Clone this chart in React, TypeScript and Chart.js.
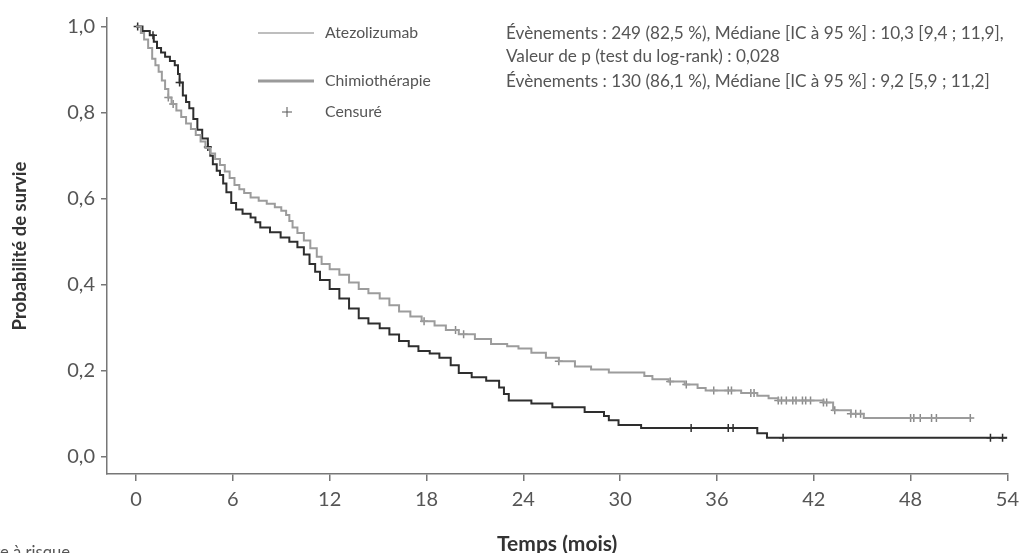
import React, { useEffect, useRef } from "react";
import { Chart, registerables } from "chart.js";

Chart.register(...registerables);

// Kaplan-Meier estimates (time in months, survival probability)
const ATEZO_T = [0, 0.3, 0.5, 0.75, 1.0, 1.2, 1.4, 1.6, 1.8, 2.0, 2.2, 2.5, 2.8, 3.1, 3.4, 3.7, 4.0, 4.3, 4.6, 4.9, 5.2, 5.5, 5.8, 6.1, 6.4, 6.7, 7.1, 7.6, 8.1, 8.6, 9.0, 9.3, 9.5, 9.7, 10.0, 10.4, 10.8, 11.2, 11.5, 12.0, 12.6, 13.2, 13.8, 14.4, 15.1, 15.7, 16.3, 17.0, 17.7, 18.5, 19.2, 20.0, 21.0, 22.0, 23.0, 23.7, 24.5, 25.4, 26.2, 27.2, 28.2, 29.3, 31.5, 32.0, 33.0, 34.0, 34.8, 35.3, 37.5, 38.5, 39.2, 39.8, 42.6, 43.2, 44.3, 45.1, 51.7];
const ATEZO_S = [1.0, 0.985, 0.97, 0.95, 0.925, 0.91, 0.895, 0.875, 0.855, 0.835, 0.82, 0.805, 0.79, 0.775, 0.762, 0.748, 0.733, 0.718, 0.705, 0.692, 0.678, 0.663, 0.648, 0.632, 0.622, 0.613, 0.603, 0.595, 0.588, 0.58, 0.572, 0.562, 0.548, 0.533, 0.52, 0.503, 0.485, 0.465, 0.448, 0.436, 0.423, 0.405, 0.39, 0.38, 0.368, 0.352, 0.338, 0.326, 0.315, 0.305, 0.295, 0.285, 0.274, 0.262, 0.257, 0.252, 0.242, 0.23, 0.222, 0.21, 0.203, 0.196, 0.188, 0.18, 0.175, 0.168, 0.16, 0.154, 0.148, 0.142, 0.136, 0.131, 0.126, 0.108, 0.1, 0.09, 0.09];
const ATEZO_CENS = [2.0, 2.3, 17.85, 19.8, 20.3, 26.2, 33.1, 34.1, 35.8, 36.7, 36.9, 38.1, 38.3, 39.8, 40.0, 40.3, 40.7, 40.9, 41.3, 41.5, 41.8, 42.6, 42.8, 43.3, 44.3, 44.6, 44.9, 48.0, 48.2, 48.6, 49.3, 49.6, 51.7];

const CHEMO_T = [0, 0.4, 0.85, 1.1, 1.3, 1.55, 1.8, 2.1, 2.4, 2.6, 2.7, 2.9, 3.1, 3.3, 3.55, 3.8, 4.1, 4.45, 4.6, 4.76, 5.0, 5.2, 5.4, 5.6, 5.9, 6.2, 6.6, 7.1, 7.4, 7.7, 8.3, 8.96, 9.5, 10.0, 10.4, 10.75, 11.1, 11.4, 12.0, 12.6, 13.2, 13.8, 14.4, 15.1, 15.7, 16.3, 16.9, 17.5, 18.2, 18.8, 19.5, 20.0, 20.8, 21.7, 22.5, 22.8, 23.1, 24.5, 25.8, 27.8, 29.0, 29.3, 29.9, 31.3, 38.5, 39.1, 54.0];
const CHEMO_S = [1.0, 0.99, 0.98, 0.965, 0.95, 0.94, 0.93, 0.92, 0.91, 0.89, 0.87, 0.84, 0.825, 0.81, 0.785, 0.76, 0.74, 0.72, 0.7, 0.68, 0.665, 0.655, 0.635, 0.615, 0.59, 0.575, 0.565, 0.556, 0.545, 0.533, 0.522, 0.51, 0.5, 0.487, 0.47, 0.448, 0.43, 0.411, 0.39, 0.368, 0.345, 0.322, 0.31, 0.299, 0.284, 0.269, 0.257, 0.246, 0.24, 0.23, 0.213, 0.195, 0.185, 0.177, 0.161, 0.146, 0.131, 0.124, 0.115, 0.104, 0.095, 0.085, 0.074, 0.067, 0.055, 0.044, 0.044];
const CHEMO_CENS = [0.1, 1.05, 2.7, 4.45, 34.4, 36.7, 37.0, 40.1, 52.95, 53.7];

const X_TICKS = [0, 6, 12, 18, 24, 30, 36, 42, 48, 54];
const Y_TICKS = [0, 0.2, 0.4, 0.6, 0.8, 1.0];

const ATEZO_LABEL = "Atezolizumab";
const CHEMO_LABEL = "Chimiothérapie";
const CENS_LABEL = "Censuré";
const ANNOT_1 = "Évènements : 249 (82,5 %), Médiane [IC à 95 %] : 10,3 [9,4 ; 11,9],";
const ANNOT_2 = "Valeur de p (test du log-rank) : 0,028";
const ANNOT_3 = "Évènements : 130 (86,1 %), Médiane [IC à 95 %] : 9,2 [5,9 ; 11,2]";
const X_TITLE = "Temps (mois)";
const Y_TITLE = "Probabilité de survie";
const RISK_LABEL = "Nombre à risque";

const ATEZO_COLOR = "#9c9c9c";
const CHEMO_COLOR = "#2e2e2e";
const FONT = "Lato, 'Open Sans', sans-serif";

function survivalAt(ts: number[], ss: number[], t: number): number {
  let s = ss[0];
  for (let i = 0; i < ts.length; i++) {
    if (ts[i] <= t) s = ss[i];
  }
  return s;
}

function fitSize(ctx: CanvasRenderingContext2D, text: string, target: number, weight = ""): number {
  ctx.font = `${weight} 100px ${FONT}`;
  const w = ctx.measureText(text).width;
  return (100 * target) / w;
}

const annotPlugin = {
  id: "annotPlugin",
  afterDraw(chart: any) {
    const ctx = chart.ctx as CanvasRenderingContext2D;
    ctx.save();
    const annotSize = fitSize(ctx, ANNOT_1, 498);
    const legendSize = fitSize(ctx, CHEMO_LABEL, 106);
    const riskSize = fitSize(ctx, "e à risque", 70);
    ctx.textBaseline = "middle";
    ctx.textAlign = "left";
    ctx.fillStyle = "#555";
    // legend lines
    ctx.strokeStyle = "#a8a8a8";
    ctx.lineWidth = 1.5;
    ctx.beginPath();
    ctx.moveTo(258, 33);
    ctx.lineTo(314, 33);
    ctx.stroke();
    ctx.strokeStyle = "#9a9a9a";
    ctx.lineWidth = 3;
    ctx.beginPath();
    ctx.moveTo(258, 81);
    ctx.lineTo(314, 81);
    ctx.stroke();
    ctx.strokeStyle = "#555";
    ctx.lineWidth = 1;
    ctx.beginPath();
    ctx.moveTo(282, 112);
    ctx.lineTo(292, 112);
    ctx.moveTo(287, 107);
    ctx.lineTo(287, 117);
    ctx.stroke();
    ctx.font = `${legendSize}px ${FONT}`;
    ctx.fillText(ATEZO_LABEL, 325, 33);
    ctx.fillText(CHEMO_LABEL, 325, 81);
    ctx.fillText(CENS_LABEL, 325, 112);
    ctx.font = `${annotSize}px ${FONT}`;
    ctx.fillText(ANNOT_1, 506, 33);
    ctx.fillText(ANNOT_2, 506, 56);
    ctx.fillText(ANNOT_3, 506, 81);
    // cut-off at-risk label at the bottom
    ctx.textAlign = "right";
    ctx.textBaseline = "top";
    ctx.font = `${riskSize}px ${FONT}`;
    ctx.fillText(RISK_LABEL, 70, 544);
    ctx.restore();
  },
};

export default function App() {
  const ref = useRef<HTMLCanvasElement | null>(null);
  useEffect(() => {
    document.body.style.margin = "0";
    if (!ref.current) return;
    const atezoLine = ATEZO_T.map((t, i) => ({ x: t, y: ATEZO_S[i] }));
    const chemoLine = CHEMO_T.map((t, i) => ({ x: t, y: CHEMO_S[i] }));
    const atezoCens = ATEZO_CENS.map((t) => ({ x: t, y: survivalAt(ATEZO_T, ATEZO_S, t) }));
    const chemoCens = CHEMO_CENS.map((t) => ({ x: t, y: survivalAt(CHEMO_T, CHEMO_S, t) }));
    const chart = new Chart(ref.current, {
      type: "line",
      data: {
        datasets: [
          {
            label: ATEZO_LABEL,
            data: atezoLine,
            stepped: "before",
            borderColor: ATEZO_COLOR,
            borderWidth: 2,
            pointRadius: 0,
            fill: false,
          },
          {
            label: CHEMO_LABEL,
            data: chemoLine,
            stepped: "before",
            borderColor: CHEMO_COLOR,
            borderWidth: 2,
            pointRadius: 0,
            fill: false,
          },
          {
            label: CENS_LABEL + " A",
            data: atezoCens,
            showLine: false,
            pointStyle: "cross",
            pointRadius: 4,
            pointBorderWidth: 1.5,
            pointBorderColor: "#8a8a8a",
          },
          {
            label: CENS_LABEL + " C",
            data: chemoCens,
            showLine: false,
            pointStyle: "cross",
            pointRadius: 4,
            pointBorderWidth: 1.5,
            pointBorderColor: "#2e2e2e",
          },
        ],
      },
      options: {
        animation: false,
        responsive: false,
        devicePixelRatio: 1,
        layout: { padding: { left: 0, top: 13, right: 16, bottom: 0 } },
        plugins: { legend: { display: false }, tooltip: { enabled: false } },
        scales: {
          x: {
            type: "linear",
            min: -1.8,
            max: 54,
            afterBuildTicks: (scale: any) => {
              scale.ticks = X_TICKS.map((v) => ({ value: v }));
            },
            afterFit: (scale: any) => {
              scale.height = 79;
            },
            ticks: {
              color: "#555",
              font: { family: FONT, size: 20 },
              padding: 7,
              maxRotation: 0,
              autoSkip: false,
              callback: (v: any) => String(v),
            },
            grid: { drawOnChartArea: false, drawTicks: true, tickLength: 7, color: "#777", lineWidth: 1.5 },
            border: { display: true, color: "#777", width: 1.5 },
            title: {
              display: true,
              text: X_TITLE,
              color: "#333",
              font: { family: FONT, size: 21, weight: "bold" },
              padding: { top: 0, bottom: -4 },
            },
          },
          y: {
            type: "linear",
            min: -0.04,
            max: 1.02,
            afterBuildTicks: (scale: any) => {
              scale.ticks = Y_TICKS.map((v) => ({ value: v }));
            },
            afterFit: (scale: any) => {
              scale.width = 107;
            },
            ticks: {
              color: "#555",
              font: { family: FONT, size: 20 },
              padding: 6,
              autoSkip: false,
              callback: (v: any) => Number(v).toFixed(1).replace(".", ","),
            },
            grid: { drawOnChartArea: false, drawTicks: true, tickLength: 6, color: "#777", lineWidth: 1.5 },
            border: { display: true, color: "#777", width: 1.5 },
            title: {
              display: true,
              text: Y_TITLE,
              color: "#333",
              font: { family: FONT, size: 18.5, weight: "bold" },
              padding: { top: 9, bottom: 0 },
            },
          },
        },
      },
      plugins: [annotPlugin],
    });
    return () => chart.destroy();
  }, []);
  return <canvas ref={ref} width={1026} height={553} style={{ display: "block", width: 1026, height: 553 }} />;
}
